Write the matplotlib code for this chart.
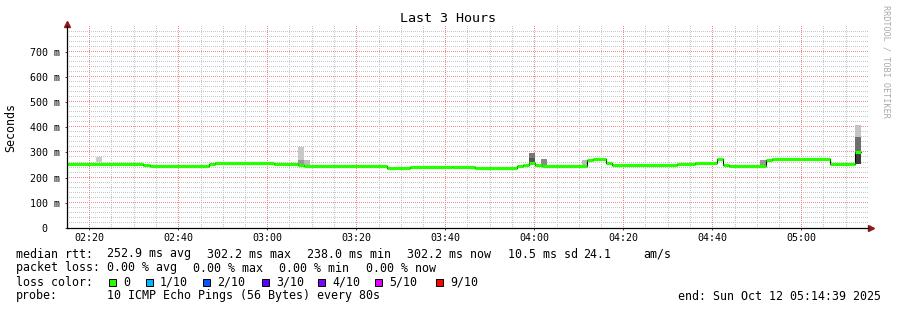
import numpy as np
import matplotlib
matplotlib.use("Agg")
import matplotlib.pyplot as plt
from matplotlib.colors import to_rgba

# time axis in minutes after 02:15
median_t = [0.0, 17.1, 18.6, 31.9, 33.3, 46.5, 51.9, 53.3, 71.9, 77.1,
            86.5, 91.7, 101.1, 102.5, 103.8, 105.2, 106.7, 116.9, 118.2, 121.1,
            122.5, 137.1, 141.1, 146.1, 147.4, 148.8, 157.1, 158.4, 171.5, 173.0,
            177.1]
median_ms = [256, 249, 248, 255, 257, 253, 249, 245, 238, 241,
             243, 240, 246, 249, 258, 249, 247, 270, 274, 257,
             252, 253, 257, 273, 251, 247, 270, 274, 255, 253,
             302]
median_end = 178.4

# smoke (ping spread) blocks
smoke_t0 = [6.5, 51.9, 51.9, 53.3, 103.8, 103.8, 106.5, 115.7, 155.7, 177.1, 177.1, 177.1]
smoke_t1 = [7.9, 53.3, 53.3, 54.6, 105.2, 105.2, 107.9, 116.9, 157.1, 178.4, 178.4, 178.4]
smoke_lo = [262, 270, 250, 250, 278, 250, 250, 250, 250, 361, 302, 254]
smoke_hi = [283, 321, 270, 270, 298, 278, 274, 270, 270, 409, 361, 302]
smoke_grey = ["#cccccc", "#c8c8c8", "#999999", "#bbbbbb", "#777777", "#555555",
              "#8a8a8a", "#bbbbbb", "#999999", "#c4c4c4", "#6e6e6e", "#3a3a3a"]

x_ticks = [5, 25, 45, 65, 85, 105, 125, 145, 165]
x_labels = ["02:20", "02:40", "03:00", "03:20", "03:40", "04:00", "04:20", "04:40", "05:00"]
y_ticks = [0, 100, 200, 300, 400, 500, 600, 700]
y_labels = ["0  ", "100 m", "200 m", "300 m", "400 m", "500 m", "600 m", "700 m"]

loss_labels = ["0", "1/10", "2/10", "3/10", "4/10", "5/10", "9/10"]
loss_colors = ["#26ff00", "#00b8ff", "#0059ff", "#5e00ff", "#7e00ff", "#dd00ff", "#ff0000"]

#------------------------------------------------------------------------------#

mono = "DejaVu Sans Mono"
plt.rcParams["font.family"] = mono

W, H = 897, 310
AX_L, AX_B = 67, 82
AX_W, AX_H = 801, 202
fig = plt.figure(figsize=(W / 100, H / 100), dpi=100)
fig.patch.set_facecolor("white")
ax = fig.add_axes([AX_L / W, AX_B / H, AX_W / W, AX_H / H])
ax.patch.set_visible(False)
ax.set_zorder(2)

xmax, ymax = 180, 802
ax.set_xlim(0, xmax)
ax.set_ylim(0, ymax)

# dotted grid as a pixel raster (1 on, 1 off), placed without resampling
grid = np.zeros((AX_H, AX_W, 4))
minor_c = np.array(to_rgba("#c6c6c6"))
major_c = np.array(to_rgba("#f08a8a"))

minor_cols = [int(round(m * AX_W / xmax)) for m in range(5, xmax, 5) if m not in x_ticks]
major_cols = [int(round(m * AX_W / xmax)) for m in x_ticks]
minor_rows = [AX_H - 1 - int(round(v * AX_H / ymax)) for v in range(20, 800, 20) if v % 100]
major_rows = [AX_H - 1 - int(round(v * AX_H / ymax)) for v in y_ticks[1:]]

for c in minor_cols:
    grid[::2, c] = minor_c
for r in minor_rows:
    grid[r, ::2] = minor_c
for c in major_cols:
    grid[::2, c] = major_c
for r in major_rows:
    grid[r, ::2] = major_c
fig.figimage(grid, xo=AX_L, yo=AX_B, origin="upper", zorder=1)

ax.set_xticks(x_ticks)
ax.set_xticklabels(x_labels)
ax.set_yticks(y_ticks)
ax.set_yticklabels(y_labels)

# smoke
ax.bar(smoke_t0, np.array(smoke_hi) - np.array(smoke_lo), bottom=smoke_lo,
       width=np.array(smoke_t1) - np.array(smoke_t0), align="edge",
       color=smoke_grey, lw=0, zorder=2)

# median
ax.step(median_t + [median_end], median_ms + [median_ms[-1]], where="post",
        color="black", lw=0.8, zorder=3)
ax.hlines(median_ms, median_t, median_t[1:] + [median_end],
          color="#26ff00", lw=2.3, zorder=4)

# axes
for side in ["top", "right"]:
    ax.spines[side].set_visible(False)
for side in ["left", "bottom"]:
    ax.spines[side].set_color("black")
    ax.spines[side].set_linewidth(0.9)
    ax.spines[side].set_zorder(5)
ax.plot([0, 0], [ymax, 807], color="black", lw=0.9, clip_on=False)
ax.plot([0], [809], marker="^", ms=4, color="#8b1a1a", clip_on=False)
ax.plot([180, 180.5], [0, 0], color="black", lw=0.9, clip_on=False)
ax.plot([180.7], [0], marker=">", ms=4, color="#8b1a1a", clip_on=False)

ax.tick_params(which="both", length=1.5, width=0.7, color="#444444")
ax.tick_params(axis="y", which="major", pad=3.5, labelsize=7.2)
ax.tick_params(axis="x", which="major", pad=2.3, labelsize=7.2)

# titles
fig.text(448 / W, 1 - 19 / H, "Last 3 Hours", ha="center", va="center", fontsize=9.6)
fig.text(11 / W, 1 - 127 / H, "Seconds", rotation=90, ha="center", va="center", fontsize=8.4)
fig.text(886 / W, 1 - 5 / H, "RRDTOOL / TOBI OETIKER", rotation=270, ha="center", va="top",
         fontsize=6.1, color="#aaaaaa")

# legend
fs = 8.4
def put(x, y, s, **kw):
    fig.text(x / W, 1 - y / H, s, ha="left", va="center", fontsize=fs, **kw)

put(16, 254, "median rtt:")
for x, s in zip([107, 207, 307, 407, 508, 583, 643],
                ["252.9 ms avg", "302.2 ms max", "238.0 ms min", "302.2 ms now",
                 "10.5 ms sd", "24.1", "am/s"]):
    put(x, 254, s)

put(16, 268, "packet loss:")
for x, s in zip([107, 193, 279, 366],
                ["0.00 % avg", "0.00 % max", "0.00 % min", "0.00 % now"]):
    put(x, 268, s)

put(16, 282, "loss color:")
box_x = [109, 146, 203, 262, 318, 375, 436]
for bx, lab, col in zip(box_x, loss_labels, loss_colors):
    fig.patches.append(plt.Rectangle((bx / W, 1 - 286 / H), 7 / W, 7 / H,
                                     transform=fig.transFigure, facecolor=col,
                                     edgecolor="black", lw=0.7))
    put(bx + 14, 282, lab)

put(16, 296, "probe:")
put(107, 296, "10 ICMP Echo Pings (56 Bytes) every 80s")
put(678, 296, "end: Sun Oct 12 05:14:39 2025")

fig.savefig("out.png", dpi=100)
